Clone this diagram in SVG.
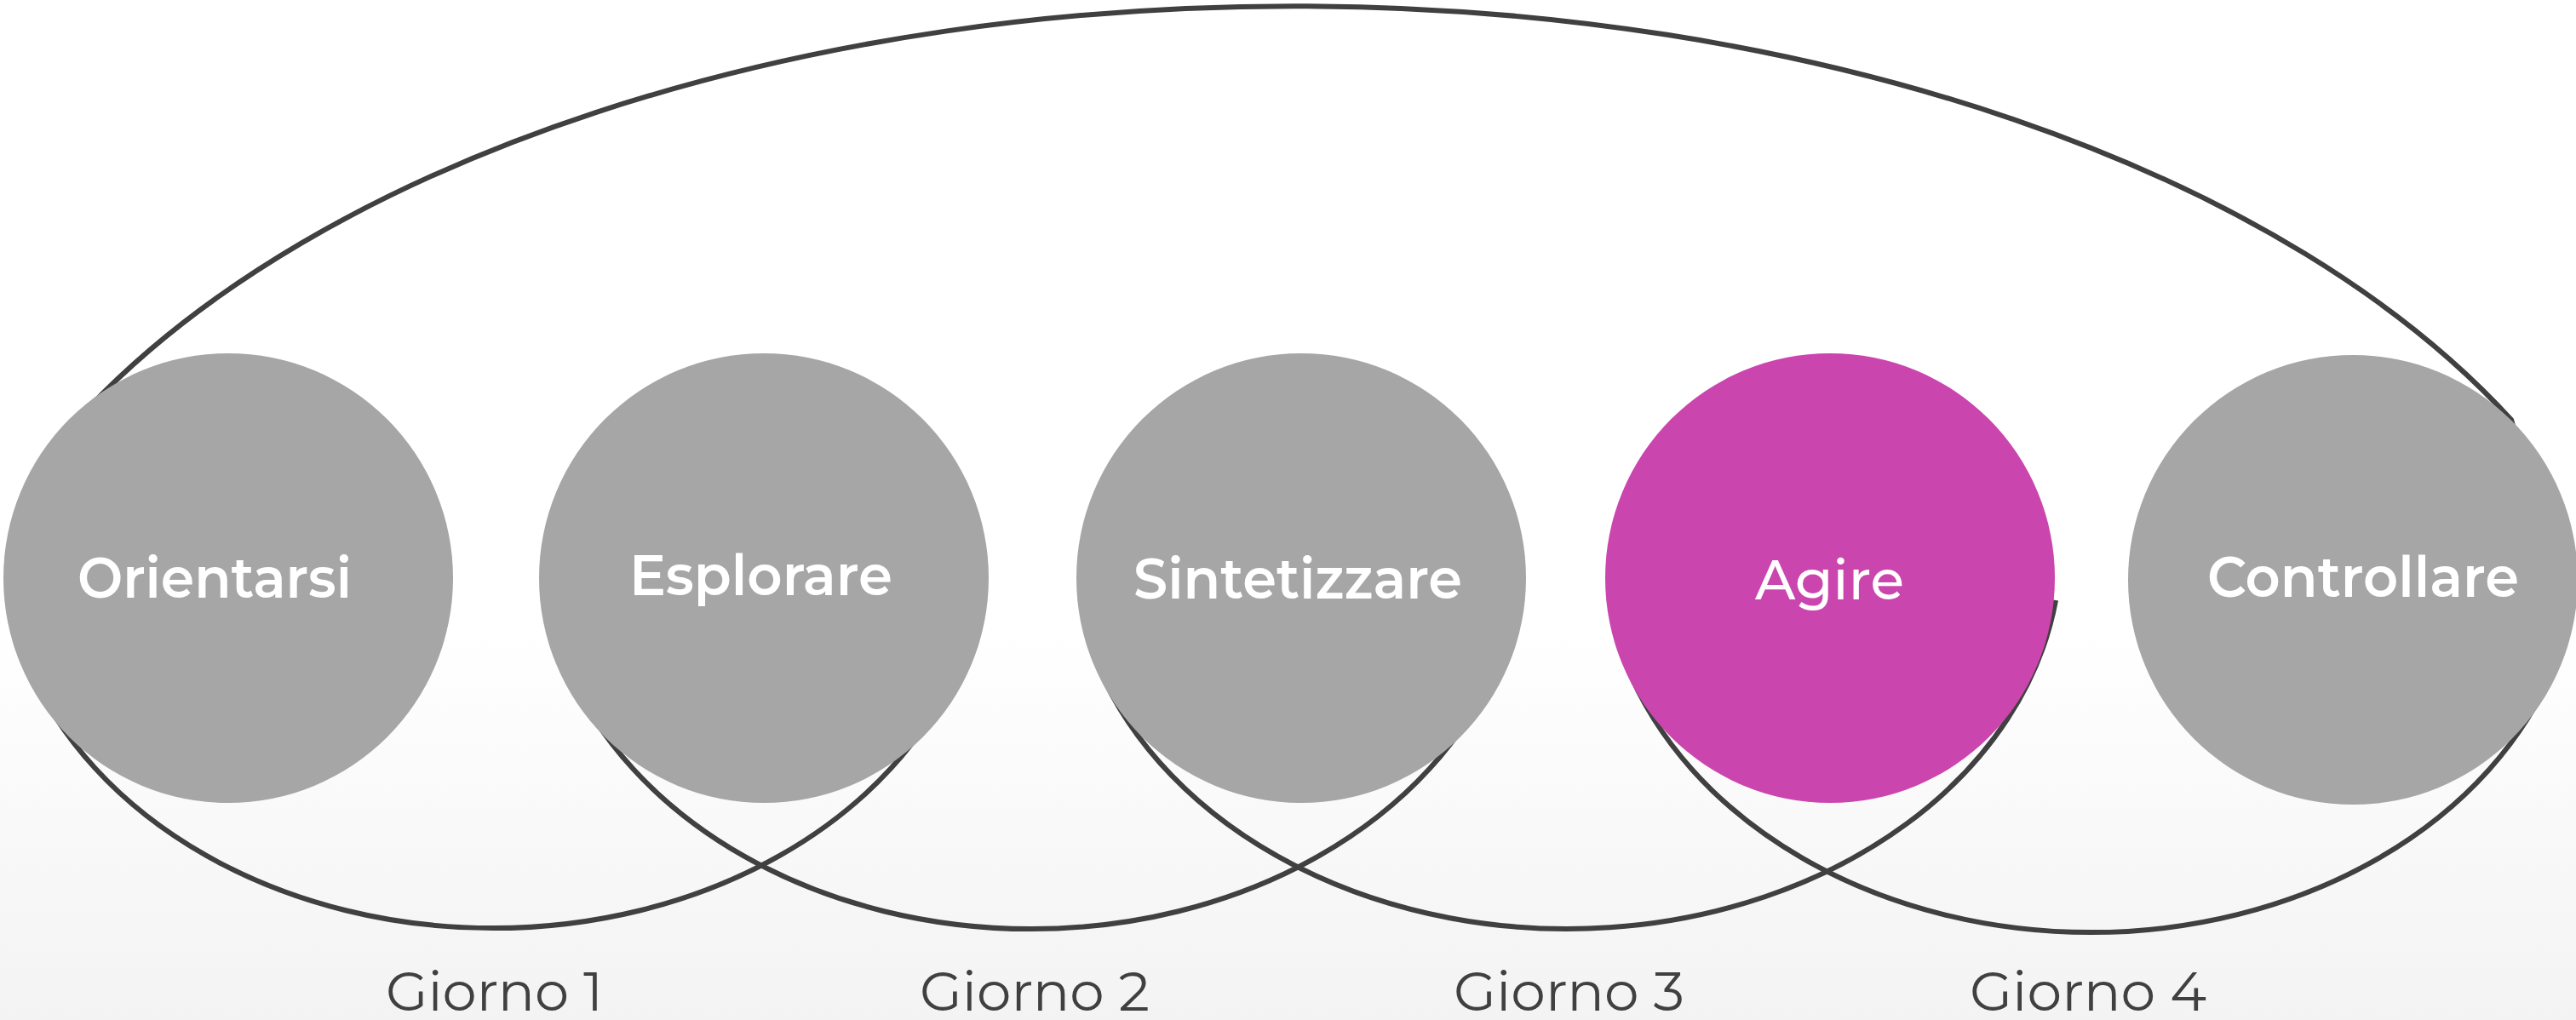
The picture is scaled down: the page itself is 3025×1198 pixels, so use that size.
<svg xmlns="http://www.w3.org/2000/svg" width="3025" height="1198" viewBox="0 0 3025 1198">
  <defs>
    <linearGradient id="bg" x1="0" y1="0" x2="0" y2="1198" gradientUnits="userSpaceOnUse">
      <stop offset="0" stop-color="#ffffff"/>
      <stop offset="0.62" stop-color="#ffffff"/>
      <stop offset="1" stop-color="#f3f3f3"/>
    </linearGradient>
    <style>
      .loop { fill: none; stroke: #404040; stroke-width: 6; }
      .step { fill: #a6a6a6; }
      .active { fill: #cb45af; }
      .label { fill: #ffffff; font-family: Montserrat, "Open Sans", "Liberation Sans", sans-serif; font-size: 66px; font-weight: 600; }
      .label-active { font-weight: 500; }
      .day { fill: #404040; font-family: Montserrat, "Open Sans", "Liberation Sans", sans-serif; font-size: 64px; font-weight: 400; }
    </style>
  </defs>

  <rect x="0" y="0" width="3025" height="1198" fill="url(#bg)"/>

  <g id="connectors">
    <path class="loop" d="M 90 540 L 105 478 A 1600 883 0 0 1 2949 493 L 2960 530"/>
    <path class="loop" d="M 32.5 780 A 575 450 0 0 0 1125.5 780"/>
    <path class="loop" d="M 664.5 781 A 575 450 0 0 0 1757.5 781"/>
    <path class="loop" d="M 1288.8 781 A 580 450 0 0 0 2414.1 705"/>
    <path class="loop" d="M 1909.3 780 A 572 450 0 0 0 3000.7 780"/>
  </g>

  <g id="node-orientarsi">
    <circle class="step" cx="268" cy="679" r="264"/>
    <text class="label" x="91" y="702" textLength="322" lengthAdjust="spacingAndGlyphs">Orientarsi</text>
  </g>
  <g id="node-esplorare">
    <circle class="step" cx="897" cy="679" r="264"/>
    <text class="label" x="739" y="699" textLength="309" lengthAdjust="spacingAndGlyphs">Esplorare</text>
  </g>
  <g id="node-sintetizzare">
    <circle class="step" cx="1528" cy="679" r="264"/>
    <text class="label" x="1331" y="703" textLength="386" lengthAdjust="spacingAndGlyphs">Sintetizzare</text>
  </g>
  <g id="node-agire">
    <circle class="active" cx="2149" cy="679" r="264"/>
    <text class="label label-active" x="2061" y="704" textLength="175" lengthAdjust="spacingAndGlyphs">Agire</text>
  </g>
  <g id="node-controllare">
    <circle class="step" cx="2763" cy="681" r="264"/>
    <text class="label" x="2592" y="701" textLength="366" lengthAdjust="spacingAndGlyphs">Controllare</text>
  </g>

  <g id="days">
    <text class="day" x="453" y="1187" textLength="255" lengthAdjust="spacingAndGlyphs">Giorno 1</text>
    <text class="day" x="1080" y="1187" textLength="270" lengthAdjust="spacingAndGlyphs">Giorno 2</text>
    <text class="day" x="1707" y="1187" textLength="271" lengthAdjust="spacingAndGlyphs">Giorno 3</text>
    <text class="day" x="2313" y="1187" textLength="278" lengthAdjust="spacingAndGlyphs">Giorno 4</text>
  </g>
</svg>
